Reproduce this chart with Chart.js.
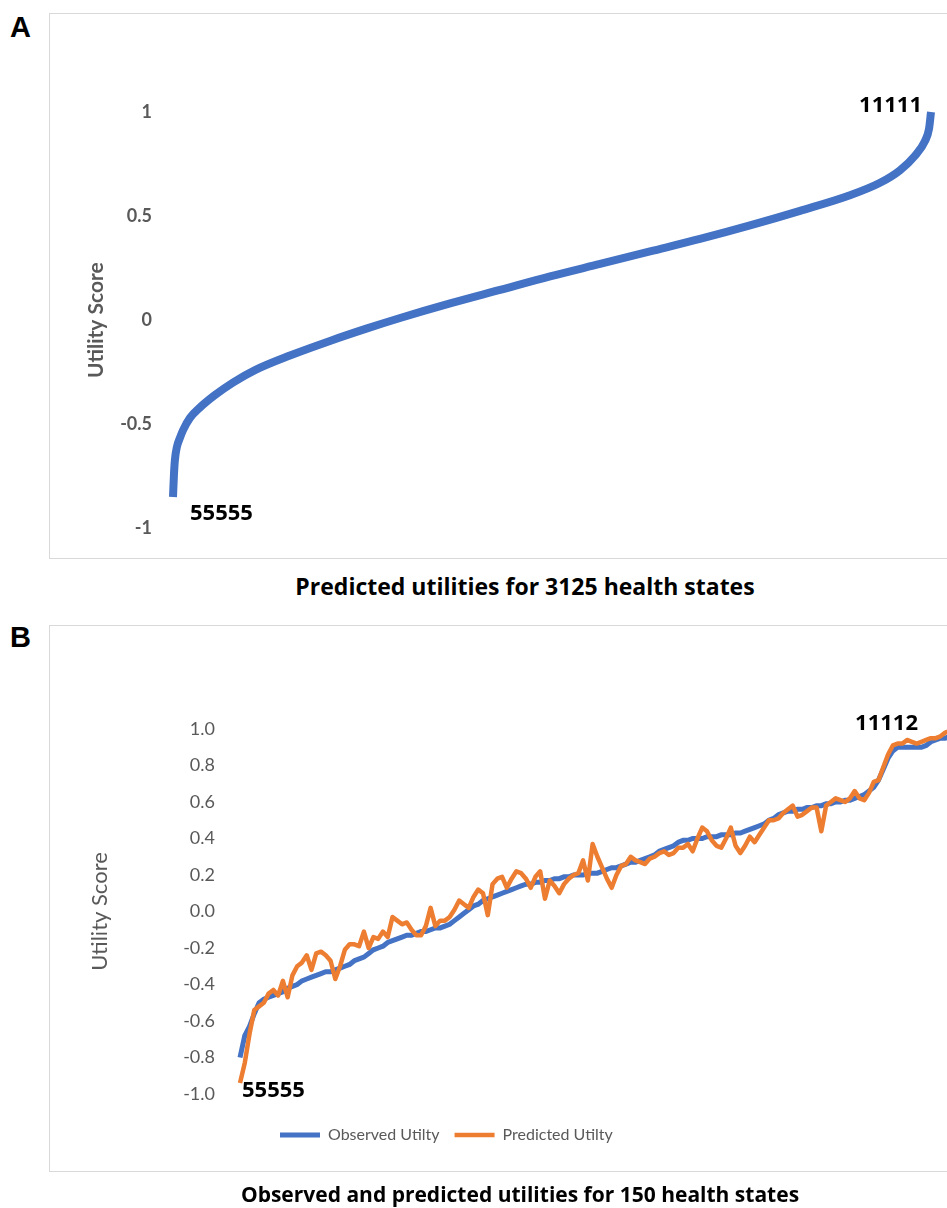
<!DOCTYPE html>
<html>
<head>
<meta charset="utf-8">
<script src="https://cdn.jsdelivr.net/npm/chart.js@4.4.1/dist/chart.umd.min.js"></script>
<style>
  html, body { margin: 0; padding: 0; background: #fff; }
  body { width: 947px; height: 1208px; overflow: hidden; position: relative; font-family: Lato, "Open Sans", sans-serif; }
  .panel-letter { position: absolute; left: 10px; font: bold 29px/1 "Liberation Sans", Arial, sans-serif; color: #000; }
  .frame { position: absolute; left: 49px; width: 1000px; border: 1px solid #d9d9d9; box-sizing: border-box; }
  .caption { position: absolute; width: 700px; text-align: center; white-space: nowrap; font-family: "Open Sans", sans-serif; font-weight: bold; line-height: 1; color: #000; }
  canvas { position: absolute; left: 0; }
</style>
</head>
<body>
<div class="panel-letter" style="top:13px">A</div>
<div class="frame" style="top:13px;height:546px"></div>
<canvas id="chartA" width="1000" height="560" style="top:0"></canvas>
<div class="caption" style="left:175px;top:575px;font-size:23px">Predicted utilities for 3125 health states</div>

<div class="panel-letter" style="top:623px">B</div>
<div class="frame" style="top:625px;height:547px"></div>
<canvas id="chartB" width="1000" height="580" style="top:620px"></canvas>
<div class="caption" style="left:170px;top:1184px;font-size:21px">Observed and predicted utilities for 150 health states</div>

<script>
// panel A: 3125 health states sorted by predicted utility (rank)
const rankA = [1, 5, 9, 17, 30, 42, 71, 112, 174, 248, 339, 483, 648, 801, 937,
  1143, 1349, 1555, 1761, 1967, 2173, 2379, 2585, 2791, 2915, 2997, 3059, 3100, 3117, 3125];
const utilityA = [-0.85, -0.74, -0.67, -0.61, -0.565, -0.53, -0.47, -0.42, -0.36, -0.30, -0.24, -0.17, -0.10, -0.04, 0.01,
  0.08, 0.145, 0.21, 0.27, 0.33, 0.39, 0.455, 0.525, 0.60, 0.66, 0.72, 0.79, 0.86, 0.92, 1.00];
const endLabelsA = ['55555', '11111'];
const yTicksA = ['-1', '-0.5', '0', '0.5', '1'];

// panel B: 150 health states, observed vs predicted
const observedB = [
  -0.80, -0.68, -0.63, -0.56, -0.50, -0.48, -0.47, -0.46, -0.45, -0.44,
  -0.42, -0.41, -0.40, -0.38, -0.37, -0.36, -0.35, -0.34, -0.33, -0.33,
  -0.32, -0.31, -0.30, -0.29, -0.27, -0.26, -0.25, -0.23, -0.21, -0.20,
  -0.19, -0.17, -0.16, -0.15, -0.14, -0.13, -0.13, -0.12, -0.11, -0.11,
  -0.10, -0.09, -0.09, -0.08, -0.07, -0.05, -0.03, -0.01, 0.01, 0.03,
  0.04, 0.06, 0.07, 0.08, 0.09, 0.10, 0.11, 0.12, 0.13, 0.14,
  0.15, 0.15, 0.16, 0.16, 0.17, 0.17, 0.18, 0.18, 0.19, 0.19,
  0.20, 0.20, 0.20, 0.21, 0.21, 0.21, 0.22, 0.23, 0.24, 0.24,
  0.25, 0.26, 0.27, 0.27, 0.28, 0.29, 0.30, 0.31, 0.33, 0.34,
  0.35, 0.36, 0.38, 0.39, 0.39, 0.40, 0.40, 0.40, 0.41, 0.41,
  0.41, 0.42, 0.42, 0.42, 0.43, 0.43, 0.44, 0.45, 0.46, 0.47,
  0.48, 0.50, 0.51, 0.53, 0.54, 0.55, 0.55, 0.56, 0.56, 0.57,
  0.57, 0.58, 0.58, 0.59, 0.59, 0.60, 0.60, 0.61, 0.61, 0.62,
  0.63, 0.64, 0.66, 0.68, 0.72, 0.78, 0.84, 0.88, 0.90, 0.90,
  0.90, 0.90, 0.90, 0.90, 0.91, 0.93, 0.94, 0.95, 0.95, 0.96
];
const predictedB = [
  -0.94, -0.83, -0.67, -0.54, -0.52, -0.50, -0.45, -0.43, -0.46, -0.38,
  -0.47, -0.35, -0.30, -0.28, -0.24, -0.32, -0.23, -0.22, -0.24, -0.27,
  -0.37, -0.30, -0.21, -0.18, -0.18, -0.19, -0.11, -0.20, -0.14, -0.15,
  -0.11, -0.14, -0.03, -0.05, -0.07, -0.06, -0.10, -0.13, -0.13, -0.08,
  0.02, -0.08, -0.05, -0.05, -0.03, 0.01, 0.06, 0.04, 0.02, 0.08,
  0.12, 0.10, -0.02, 0.15, 0.18, 0.19, 0.13, 0.18, 0.22, 0.21,
  0.18, 0.13, 0.19, 0.22, 0.07, 0.17, 0.14, 0.10, 0.15, 0.18,
  0.20, 0.21, 0.28, 0.17, 0.37, 0.30, 0.24, 0.18, 0.13, 0.20,
  0.25, 0.26, 0.30, 0.28, 0.27, 0.26, 0.29, 0.30, 0.32, 0.33,
  0.31, 0.32, 0.35, 0.35, 0.37, 0.33, 0.40, 0.46, 0.44, 0.39,
  0.36, 0.35, 0.40, 0.46, 0.36, 0.32, 0.36, 0.41, 0.38, 0.42,
  0.46, 0.50, 0.50, 0.51, 0.54, 0.56, 0.58, 0.52, 0.53, 0.55,
  0.57, 0.57, 0.44, 0.58, 0.60, 0.62, 0.61, 0.60, 0.62, 0.66,
  0.62, 0.61, 0.65, 0.71, 0.72, 0.79, 0.86, 0.91, 0.92, 0.92,
  0.94, 0.93, 0.92, 0.93, 0.94, 0.95, 0.95, 0.96, 0.98, 0.99
];
const statesB = observedB.map((v, i) => i + 1);
const seriesNamesB = ['Observed Utilty', 'Predicted Utilty'];
const endLabelsB = ['55555', '11112'];
const yTicksB = ['-1.0', '-0.8', '-0.6', '-0.4', '-0.2', '0.0', '0.2', '0.4', '0.6', '0.8', '1.0'];

const BLUE = '#4472C4';
const ORANGE = '#ED7D31';
const GREY = '#595959';
const FONT = 'Lato, "Open Sans", sans-serif';

// writes the health-state codes next to the first and last point of a dataset
const endLabels = {
  id: 'endLabels',
  afterDatasetsDraw(chart, args, opts) {
    const pts = chart.getDatasetMeta(opts.dataset).data;
    const first = pts[0], last = pts[pts.length - 1];
    const ctx = chart.ctx;
    ctx.save();
    ctx.font = 'bold 22px "Open Sans", sans-serif';
    ctx.fillStyle = '#000';
    ctx.textBaseline = 'middle';
    ctx.textAlign = 'left';
    ctx.fillText(opts.text[0], first.x + opts.first[0], first.y + opts.first[1]);
    ctx.textAlign = 'right';
    ctx.fillText(opts.text[1], last.x + opts.last[0], last.y + opts.last[1]);
    ctx.restore();
  }
};

// moves the legend row to where Excel had put it
const legendShift = {
  id: 'legendShift',
  afterLayout(chart, args, opts) {
    const lg = chart.legend;
    const pad = lg.options.labels.padding;
    const start = (lg.left + pad + lg.right - lg.lineWidths[0]) / 2;
    const dx = opts.x - start;
    lg.left += dx; lg.right += dx;
    lg.top += opts.dy; lg.bottom += opts.dy;
  }
};

new Chart(document.getElementById('chartA'), {
  type: 'line',
  data: {
    datasets: [{
      data: rankA.map((r, i) => ({x: r, y: utilityA[i]})),
      borderColor: BLUE,
      borderWidth: 8,
      pointRadius: 0,
      cubicInterpolationMode: 'monotone',
      clip: false
    }]
  },
  options: {
    responsive: false,
    animation: false,
    layout: {padding: {left: 80, right: 69, top: 112, bottom: 28}},
    plugins: {
      legend: {display: false},
      tooltip: {enabled: false},
      endLabels: {dataset: 0, text: endLabelsA, first: [17, 17], last: [-9, -6]}
    },
    scales: {
      x: {type: 'linear', min: 1, max: 3125, display: false},
      y: {
        min: -1, max: 1,
        afterFit: s => { s.width = 93; },
        grid: {display: false, drawTicks: false},
        border: {display: false},
        ticks: {
          stepSize: 0.5, padding: 21, color: GREY,
          font: {family: FONT, size: 18, weight: 'bold'},
          callback: (v, i) => yTicksA[i]
        },
        title: {display: true, text: 'Utility Score', color: GREY, font: {family: FONT, size: 21, weight: 'bold'}}
      }
    }
  },
  plugins: [endLabels]
});

new Chart(document.getElementById('chartB'), {
  type: 'line',
  data: {
    labels: statesB,
    datasets: [{
      label: seriesNamesB[0],
      data: observedB,
      borderColor: BLUE,
      backgroundColor: BLUE,
      borderWidth: 5,
      pointRadius: 0,
      order: 1,
      clip: false
    }, {
      label: seriesNamesB[1],
      data: predictedB,
      borderColor: ORANGE,
      backgroundColor: ORANGE,
      borderWidth: 4.5,
      borderJoinStyle: 'round',
      pointRadius: 0,
      order: 0,
      clip: false
    }]
  },
  options: {
    responsive: false,
    animation: false,
    layout: {padding: {left: 83, right: 50, top: 109, bottom: 65}},
    plugins: {
      legend: {
        position: 'bottom',
        labels: {
          usePointStyle: true, pointStyle: 'line', pointStyleWidth: 40,
          padding: 15, color: GREY, font: {family: FONT, size: 16},
          sort: (a, b) => a.datasetIndex - b.datasetIndex
        }
      },
      legendShift: {x: 280, dy: 18},
      tooltip: {enabled: false},
      endLabels: {dataset: 1, text: endLabelsB, first: [2, 8], last: [-32, -7]}
    },
    scales: {
      x: {display: false},
      y: {
        min: -1, max: 1,
        afterFit: s => { s.width = 157; },
        grid: {display: false, drawTicks: false},
        border: {display: false},
        ticks: {
          stepSize: 0.2, padding: 25, color: GREY,
          font: {family: FONT, size: 18},
          callback: (v, i) => yTicksB[i]
        },
        title: {display: true, text: 'Utility Score', color: GREY, font: {family: FONT, size: 22}}
      }
    }
  },
  plugins: [endLabels, legendShift]
});
</script>
</body>
</html>
